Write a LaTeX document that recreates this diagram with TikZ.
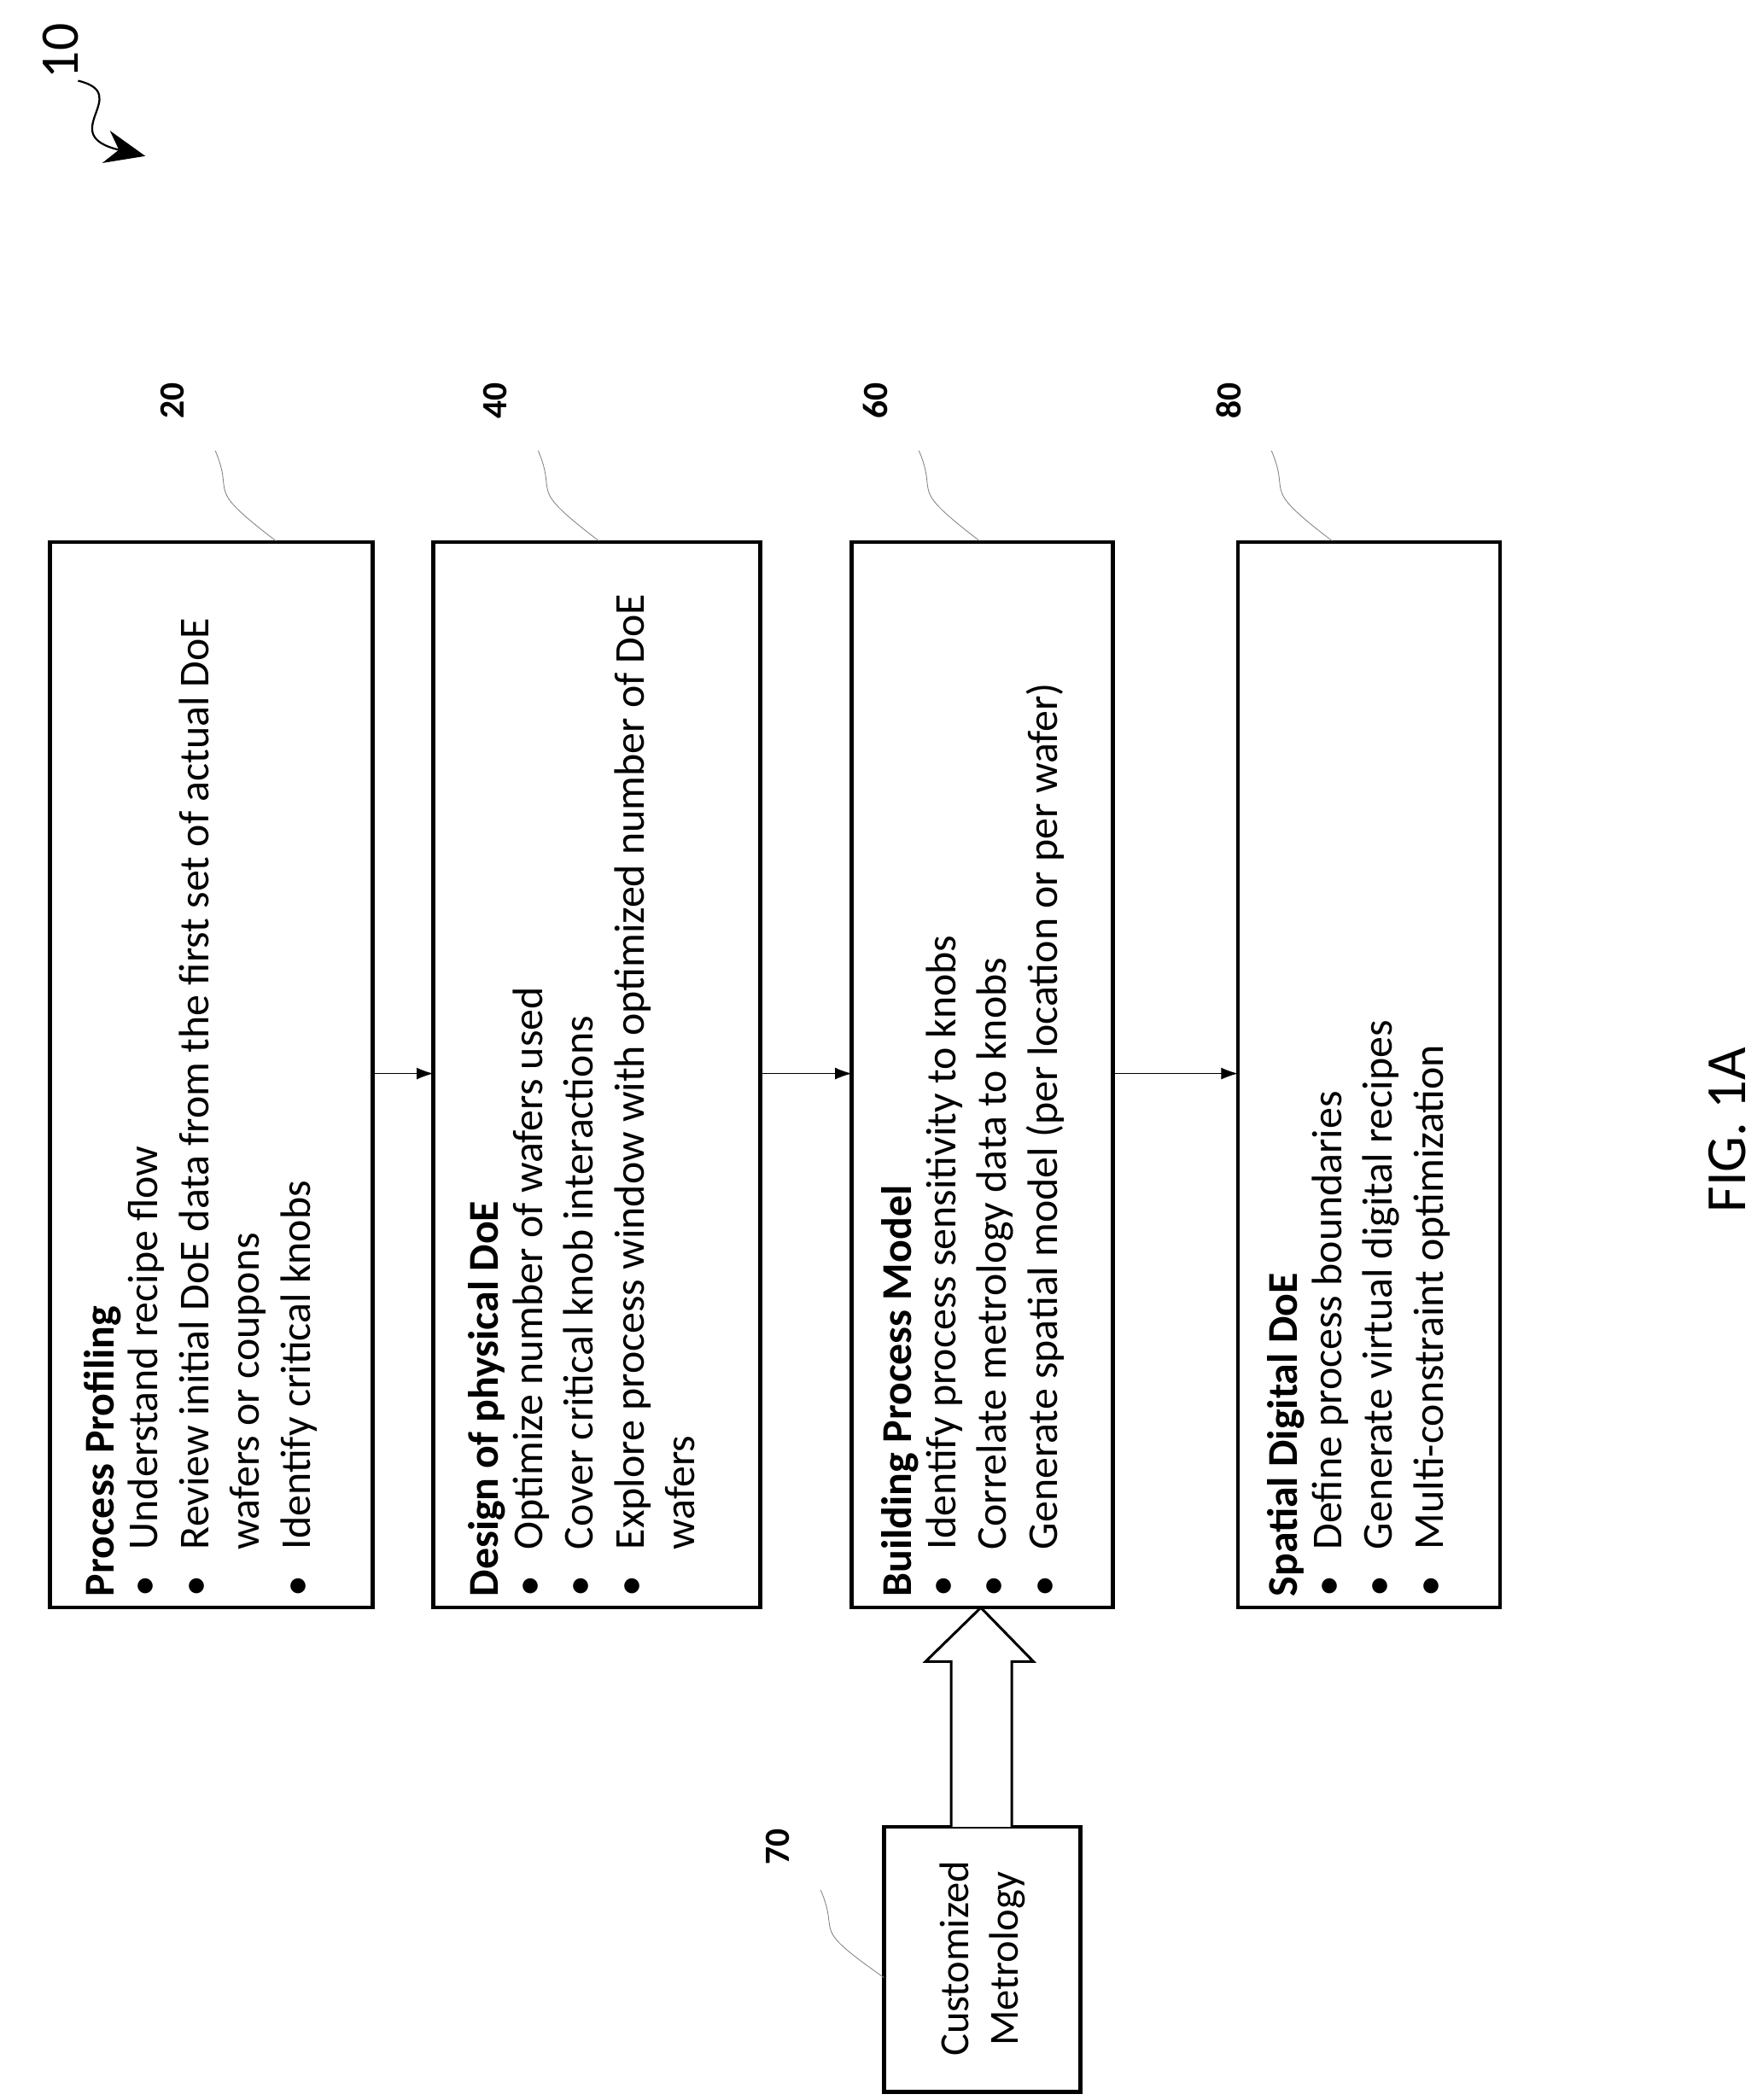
\documentclass[tikz,border=0pt]{standalone}
\usepackage{fontspec}
\setmainfont{Carlito}
\usetikzlibrary{arrows.meta}
\begin{document}
\begin{tikzpicture}[x=0.04cm,y=-0.04cm,
  box/.style={draw,line width=3.2pt},
  txt/.style={rotate=90,anchor=north west,inner sep=0pt,align=left,font=\fontsize{36}{43}\selectfont},
  lbl/.style={rotate=90,font=\fontsize{30}{36}\selectfont\bfseries},
  lead/.style={gray,line width=0.6pt},
  flow/.style={-{Latex[length=14pt,width=10pt]},line width=0.7pt}]
\useasboundingbox (0,0) rectangle (1310,1561);
\newcommand{\bl}{\textbullet}
% boxes
\draw[box] (37,403) rectangle (277,1195);
\coordinate (e20) at (277,798);
\draw[box] (322,403) rectangle (565,1195);
\coordinate (w40) at (322,798); \coordinate (e40) at (565,798);
\draw[box] (633,403) rectangle (827,1195);
\coordinate (w60) at (633,798); \coordinate (e60) at (827,798);
\draw[box] (920,403) rectangle (1115,1195);
\coordinate (w80) at (920,798);
\draw[box] (657,1358) rectangle (803,1555);
% texts
\node[txt] (t20) at (62,1187) {\textbf{Process Profiling}\\
\begin{tabular}{@{}p{1.4cm}@{}l@{}}
\bl & Understand recipe flow\\
\bl & Review initial DoE data from the first set of actual DoE\\
 & wafers or coupons\\
\bl & Identify critical knobs
\end{tabular}};
\node[txt] (t40) at (348,1187) {\textbf{Design of physical DoE}\\
\begin{tabular}{@{}p{1.4cm}@{}l@{}}
\bl & Optimize number of wafers used\\
\bl & Cover critical knob interactions\\
\bl & Explore process window with optimized number of DoE\\
 & wafers
\end{tabular}};
\node[txt] (t60) at (655,1187) {\textbf{Building Process Model}\\
\begin{tabular}{@{}p{1.4cm}@{}l@{}}
\bl & Identify process sensitivity to knobs\\
\bl & Correlate metrology data to knobs\\
\bl & Generate spatial model (per location or per wafer)
\end{tabular}};
\node[txt] (t80) at (942,1187) {\textbf{Spatial Digital DoE}\\
\begin{tabular}{@{}p{1.4cm}@{}l@{}}
\bl & Define process boundaries\\
\bl & Generate virtual digital recipes\\
\bl & Multi-constraint optimization
\end{tabular}};
\node[rotate=90,align=center,font=\fontsize{35}{42}\selectfont] (t70) at (730,1456) {Customized\\Metrology};
% flow arrows
\draw[flow] (e20) -- (w40);
\draw[flow] (e40) -- (w60);
\draw[flow] (e60) -- (w80);
% hollow block arrow
\draw[line width=2.2pt,fill=white] (707,1358) -- (707,1235) -- (688,1235) -- (729,1195) -- (768,1235) -- (752,1235) -- (752,1358);
% labels
\node[lbl] (l20) at (128,298) {20};
\node[lbl] (l40) at (368,298) {40};
\node[lbl] (l60) at (651,298) {60};
\node[lbl] (l80) at (913,298) {80};
\node[lbl] (l70) at (578,1373) {70};
\draw[lead] (160,335) .. controls (175,370) and (150,360) .. (205,402);
\draw[lead] (400,335) .. controls (415,370) and (390,360) .. (445,402);
\draw[lead] (683,335) .. controls (698,370) and (673,360) .. (728,402);
\draw[lead] (945,335) .. controls (960,370) and (935,360) .. (990,402);
\draw[lead] (610,1405) .. controls (625,1440) and (600,1430) .. (657,1470);
% 10
\node[rotate=90,font=\fontsize{46}{50}\selectfont] (l10) at (45,38) {10};
\draw[line width=1.6pt,-{Stealth[length=34pt,width=28pt]}] (58,60) .. controls (100,70) and (40,100) .. (108,116);
% fig
\node[rotate=90,inner sep=0pt,font=\fontsize{48}{50}\selectfont] (fig) at (1284,840) {FIG. 1A};
\end{tikzpicture}
\end{document}
